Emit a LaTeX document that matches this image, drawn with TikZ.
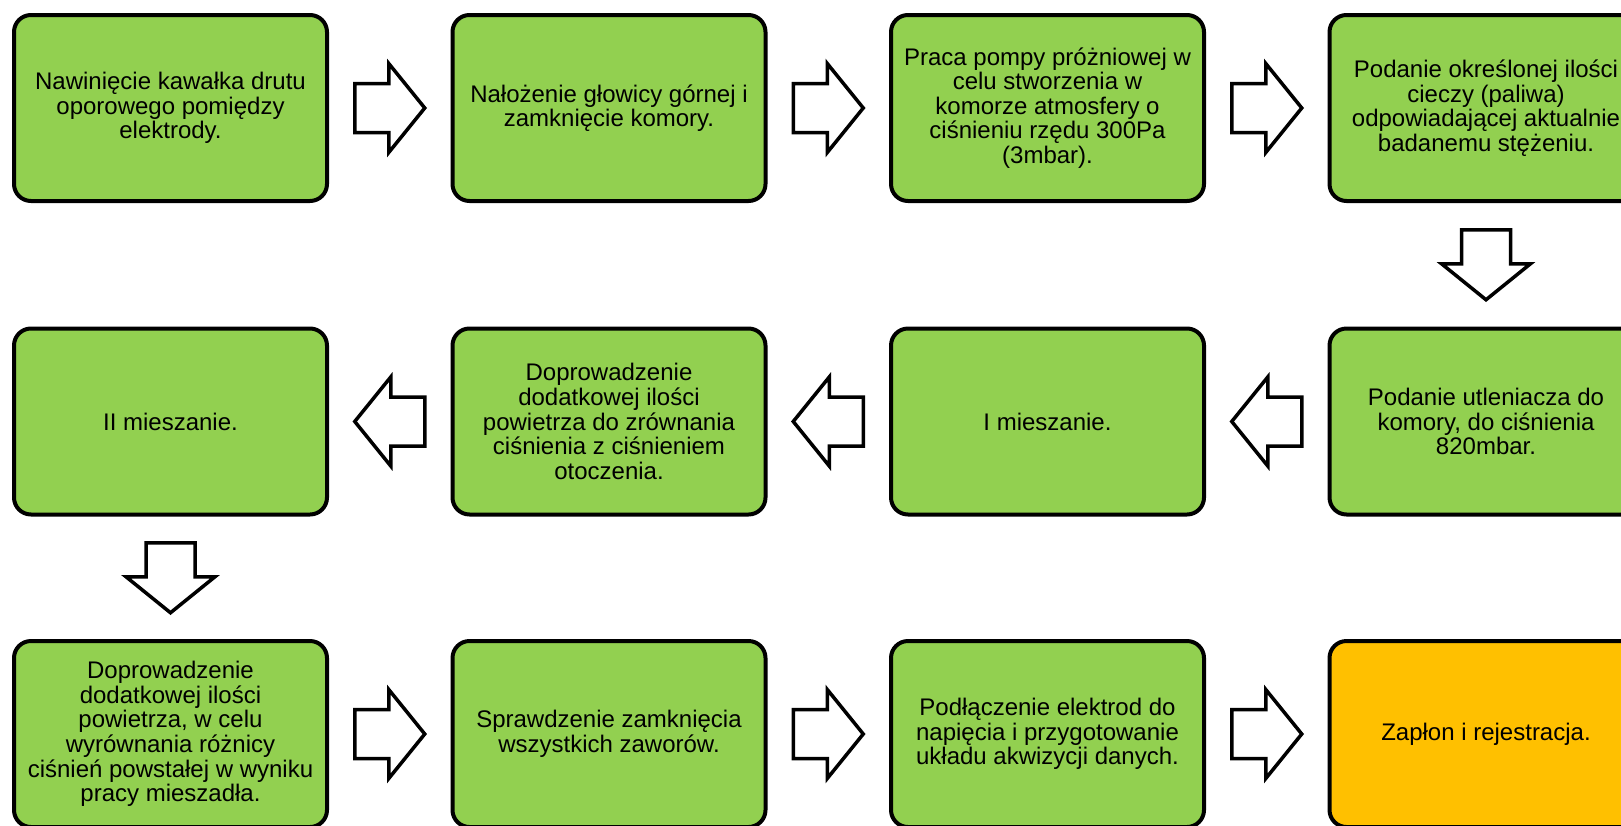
\documentclass[tikz,border=0pt]{standalone}
\usepackage{fontspec}
\setmainfont{Liberation Sans}
\usetikzlibrary{calc}
\definecolor{boxgreen}{HTML}{92D050}
\definecolor{boxorange}{HTML}{FFC000}
\begin{document}
\begin{tikzpicture}[x=1pt,y=1pt,
  stepbox/.style={draw=black, line width=4pt, rounded corners=17pt, fill=boxgreen,
    minimum width=313pt, minimum height=186pt, align=center, inner sep=0pt,
    font=\fontsize{24}{24.6}\selectfont},
  endbox/.style={stepbox, fill=boxorange},
  pics/blockarrow/.style={code={
    \draw[line width=3.5pt, fill=white, miter limit=10]
      (-35,-24.5) -- (-1,-24.5) -- (-1,-44.5) -- (35,0) -- (-1,44.5) -- (-1,24.5) -- (-35,24.5) -- cycle;}}
]
\useasboundingbox (0,0) rectangle (1621,-825);
\clip (0,0) rectangle (1621,-825);

% row 1
\node[stepbox] (b1) at (170.5,-108) {Nawinięcie kawałka drutu\\oporowego pomiędzy\\elektrody.};
\node[stepbox] (b2) at (609,-108) {Nałożenie głowicy górnej i\\zamknięcie komory.};
\node[stepbox] (b3) at (1047.5,-108) {Praca pompy próżniowej w\\celu stworzenia w\\komorze atmosfery o\\ciśnieniu rzędu 300Pa\\(3mbar).};
\node[stepbox] (b4) at (1486,-108) {Podanie określonej ilości\\cieczy (paliwa)\\odpowiadającej aktualnie\\badanemu stężeniu.};

% row 2
\node[stepbox] (b5) at (1486,-421.5) {Podanie utleniacza do\\komory, do ciśnienia\\820mbar.};
\node[stepbox] (b6) at (1047.5,-421.5) {I mieszanie.};
\node[stepbox] (b7) at (609,-421.5) {Doprowadzenie\\dodatkowej ilości\\powietrza do zrównania\\ciśnienia z ciśnieniem\\otoczenia.};
\node[stepbox] (b8) at (170.5,-421.5) {II mieszanie.};

% row 3
\node[stepbox] (b9) at (170.5,-734) {Doprowadzenie\\dodatkowej ilości\\powietrza, w celu\\wyrównania różnicy\\ciśnień powstałej w wyniku\\pracy mieszadła.};
\node[stepbox] (b10) at (609,-734) {Sprawdzenie zamknięcia\\wszystkich zaworów.};
\node[stepbox] (b11) at (1047.5,-734) {Podłączenie elektrod do\\napięcia i przygotowanie\\układu akwizycji danych.};
\node[endbox] (b12) at (1486,-734) {Zapłon i rejestracja.};

% arrows
\pic at ($(b1.east)!0.5!(b2.west)$) {blockarrow};
\pic at ($(b2.east)!0.5!(b3.west)$) {blockarrow};
\pic at ($(b3.east)!0.5!(b4.west)$) {blockarrow};
\pic[rotate=-90] at ($(b4.south)!0.5!(b5.north)$) {blockarrow};
\pic[rotate=180] at ($(b5.west)!0.5!(b6.east)$) {blockarrow};
\pic[rotate=180] at ($(b6.west)!0.5!(b7.east)$) {blockarrow};
\pic[rotate=180] at ($(b7.west)!0.5!(b8.east)$) {blockarrow};
\pic[rotate=-90] at ($(b8.south)!0.5!(b9.north)$) {blockarrow};
\pic at ($(b9.east)!0.5!(b10.west)$) {blockarrow};
\pic at ($(b10.east)!0.5!(b11.west)$) {blockarrow};
\pic at ($(b11.east)!0.5!(b12.west)$) {blockarrow};
\end{tikzpicture}
\end{document}
